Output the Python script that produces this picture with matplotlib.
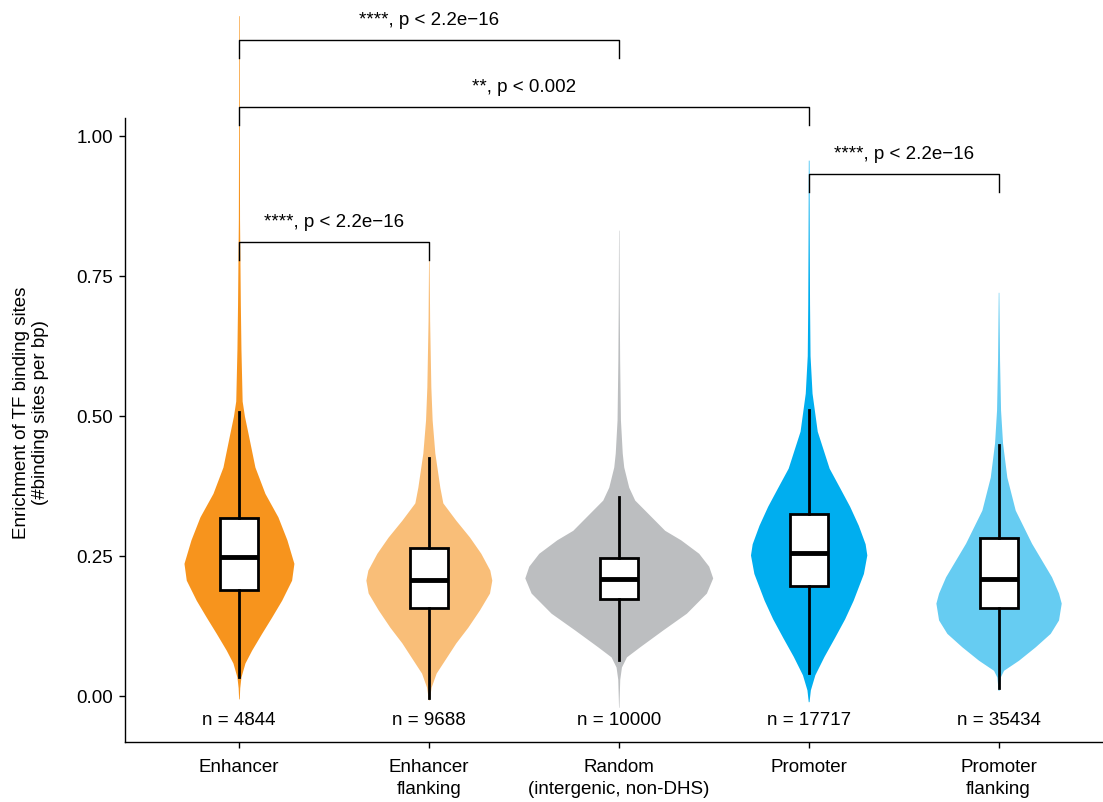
import numpy as np
import matplotlib.pyplot as plt

plt.rcParams['font.family'] = ['Liberation Sans', 'DejaVu Sans']

################################## DATA ##################################

groups = ['Enhancer', 'Enhancer\nflanking', 'Random\n(intergenic, non-DHS)',
          'Promoter', 'Promoter\nflanking']
counts = [4844, 9688, 10000, 17717, 35434]
colors = ['#F7941D', '#F9BE78', '#BCBEC0', '#00AEEF', '#66CCF2']

# box statistics
whislo = [0.034, -0.004, 0.064, 0.041, 0.014]
q1 = [0.189, 0.157, 0.173, 0.197, 0.157]
med = [0.248, 0.207, 0.209, 0.255, 0.209]
q3 = [0.318, 0.264, 0.246, 0.325, 0.282]
whishi = [0.507, 0.425, 0.355, 0.511, 0.448]

# violin outlines: value and half width (pixels, 190 px between groups)
enh_y = [1.215, 1.00, 0.85, 0.775, 0.70, 0.62, 0.527, 0.50, 0.47, 0.409, 0.362,
         0.320, 0.279, 0.237, 0.207, 0.171, 0.141, 0.112, 0.082, 0.059, 0.034,
         0.015, -0.005]
enh_w = [0.3, 0.4, 0.6, 1.0, 1.4, 2.0, 3.2, 5.5, 9, 16, 26, 39, 48, 55, 52.7,
         42.7, 32.7, 22.7, 12.7, 6, 2, 0.8, 0.3]

enf_y = [0.779, 0.671, 0.552, 0.493, 0.434, 0.373, 0.345, 0.314, 0.284, 0.255,
         0.225, 0.207, 0.184, 0.154, 0.123, 0.095, 0.064, 0.041, 0.016, -0.007]
enf_w = [0.3, 0.8, 2, 3.3, 6, 11, 14, 27, 40.7, 52, 61, 63, 60.7, 50.7, 39, 27,
         15.7, 7.3, 2.3, 0.4]

rnd_y = [0.832, 0.70, 0.60, 0.493, 0.434, 0.409, 0.373, 0.35, 0.314, 0.296,
         0.279, 0.255, 0.232, 0.211, 0.184, 0.148, 0.118, 0.088, 0.070, 0.052,
         0.03, 0.0, -0.02]
rnd_w = [0.2, 0.5, 0.9, 1.7, 3.5, 5, 10, 16, 36, 46, 62, 80, 90, 94, 87.7, 67.7,
         44, 21, 7.7, 2.7, 1.0, 0.5, 0.2]

pro_y = [0.957, 0.81, 0.70, 0.608, 0.541, 0.473, 0.407, 0.373, 0.339, 0.305,
         0.272, 0.252, 0.219, 0.171, 0.138, 0.104, 0.071, 0.038, 0.011, -0.01]
pro_w = [0.3, 0.6, 0.9, 1.4, 3.4, 8.6, 20.5, 30.8, 41, 49.7, 56.5, 58.2, 54.8,
         44.5, 36, 25.7, 15.4, 6.2, 1.7, 0.4]

prf_y = [0.721, 0.60, 0.511, 0.452, 0.391, 0.332, 0.273, 0.243, 0.213, 0.184,
         0.166, 0.136, 0.112, 0.088, 0.064, 0.046, 0.034, 0.01]
prf_w = [0.3, 1, 2, 4, 8.3, 16.7, 33, 43, 53, 60, 62.7, 60, 51.7, 36.7, 20, 5,
         1.7, 0.4]

violin_y = [enh_y, enf_y, rnd_y, pro_y, prf_y]
violin_w = [enh_w, enf_w, rnd_w, pro_w, prf_w]

# significance brackets: (left group, right group, height, label)
comparisons = [(0, 2, 1.171, '****, p < 2.2e\u221216'),
               (0, 3, 1.052, '**, p < 0.002'),
               (0, 1, 0.811, '****, p < 2.2e\u221216'),
               (3, 4, 0.932, '****, p < 2.2e\u221216')]

################################## PLOT ##################################

fig = plt.figure(figsize=(11.03, 8.02), dpi=100)
ax = fig.add_axes([125 / 1103, 1 - 742 / 802, 1 - 125 / 1103, 742 / 802])

px_per_group = 190.0
pos = np.arange(len(groups))

for i in range(len(groups)):
    y = np.array(violin_y[i])
    w = np.array(violin_w[i]) / px_per_group
    ax.fill_betweenx(y, pos[i] - w, pos[i] + w, color=colors[i], linewidth=0,
                     clip_on=False, zorder=1)

stats = []
for i in range(len(groups)):
    stats.append({'whislo': whislo[i], 'q1': q1[i], 'med': med[i],
                  'q3': q3[i], 'whishi': whishi[i], 'fliers': []})

ax.bxp(stats, positions=pos, widths=0.2, patch_artist=True, showfliers=False,
       showcaps=False,
       boxprops=dict(facecolor='white', edgecolor='black', linewidth=2.0),
       whiskerprops=dict(color='black', linewidth=2.0),
       medianprops=dict(color='black', linewidth=3.5),
       zorder=3)

for i in range(len(groups)):
    ax.text(pos[i], -0.043, 'n = %d' % counts[i], ha='center', va='center',
            fontsize=13.5)

drop = 0.032
for a, b, h, lab in comparisons:
    ax.plot([pos[a], pos[a], pos[b], pos[b]], [h - drop, h, h, h - drop],
            color='black', linewidth=1.0, clip_on=False, zorder=4)
    ax.text((pos[a] + pos[b]) / 2, h + 0.02, lab, ha='center', va='bottom',
            fontsize=13.5)

ax.set_xlim(-0.6, 4.55)
ax.set_ylim(-0.082, 1.243)
ax.set_xticks(pos)
ax.set_xticklabels(groups, fontsize=13.5, linespacing=1.38)
ax.set_yticks([0, 0.25, 0.5, 0.75, 1.0])
ax.set_yticklabels(['0.00', '0.25', '0.50', '0.75', '1.00'], fontsize=13.5)
ax.tick_params(axis='y', length=4.3, width=1.0, pad=4)
ax.tick_params(axis='x', length=4.3, width=1.0, pad=8)

ax.spines['top'].set_visible(False)
ax.spines['right'].set_visible(False)
ax.spines['left'].set_linewidth(1.0)
ax.spines['bottom'].set_linewidth(1.0)
ax.spines['left'].set_bounds(-0.082, 1.032)

fig.text(31 / 1103, 1 - 413 / 802,
         'Enrichment of TF binding sites\n(#binding sites per bp)',
         rotation=90, ha='center', va='center', fontsize=13.5,
         multialignment='center', linespacing=1.2)

plt.savefig('out.png', dpi=100)
